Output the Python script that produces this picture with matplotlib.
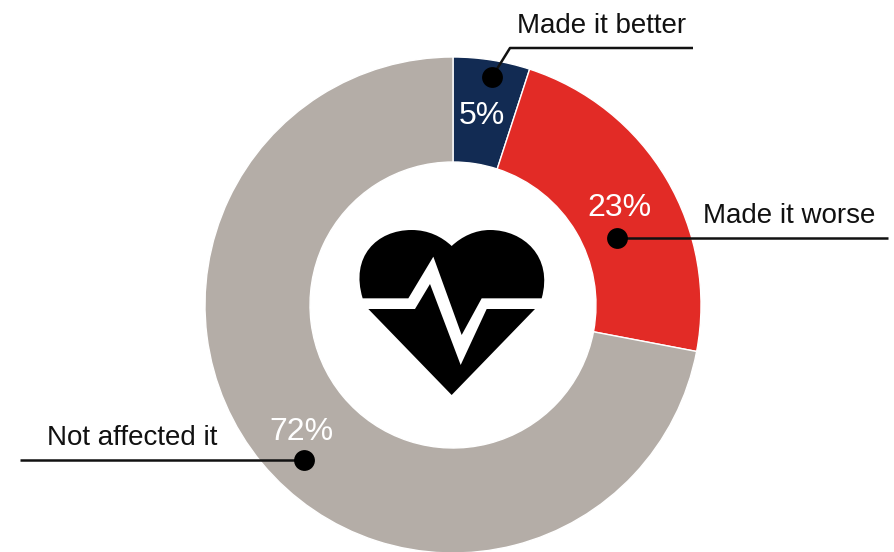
import matplotlib
matplotlib.use("Agg")
import matplotlib.pyplot as plt
from matplotlib import rcParams
from matplotlib.path import Path
from matplotlib.patches import PathPatch

config = {
    "font.family": ['Liberation Sans', 'DejaVu Sans'],
    "font.size": 20,
}
rcParams.update(config)

categories = ["Made it better", "Made it worse", "Not affected it"]
values = [5, 23, 72]
colors = ["#122B53", "#E22B26", "#B4ADA7"]

W, H = 895, 552


def py(y):
    # pixel rows run downwards, the axes run upwards
    return H - y


def icon(x, y):
    # heart outline was sketched on a 3x grid
    return (340 + x / 3, py(210 + y / 3))


fig = plt.figure(figsize=(W / 100, H / 100), dpi=100)
ax = fig.add_axes([0, 0, 1, 1])

ax.pie(values, colors=colors, startangle=90, counterclock=False,
       center=(453, py(305)), radius=248, frame=True,
       wedgeprops=dict(width=105, edgecolor="white", linewidth=1))
ax.set_xlim(0, W)
ax.set_ylim(0, H)
ax.set_aspect("equal")
ax.axis("off")

# percentage labels on the ring
label_pos = [(482, 116), (619, 208), (301, 432)]
for v, (x, y) in zip(values, label_pos):
    ax.text(x, py(y), f"{v}%", color="white", fontsize=23,
            ha="center", va="center", zorder=5)

# leader lines with their dots
leaders = [
    [(492, 77), (510, 48), (693, 48)],
    [(617, 238), (888, 238)],
    [(304, 460), (20, 460)],
]
for pts in leaders:
    xs = [p[0] for p in pts]
    ys = [py(p[1]) for p in pts]
    ax.plot(xs, ys, color="#111111", lw=1.8, zorder=6, solid_capstyle="butt")
    ax.plot(xs[0], ys[0], "o", color="black", ms=15, mew=0, zorder=7)

name_pos = [(517, 26), (703, 216), (47, 438)]
for name, (x, y) in zip(categories, name_pos):
    ax.text(x, py(y), name, color="#111111", fontsize=20,
            ha="left", va="center", zorder=5)

# heart icon, upper half
top = [(68, 265), (30, 140), (110, 60), (215, 60), (265, 60), (305, 80), (335, 108),
       (365, 80), (405, 60), (450, 60), (550, 60), (640, 140), (605, 265),
       (425, 265), (365, 375), (280, 140), (205, 265), (68, 265)]
top_codes = [Path.MOVETO] + [Path.CURVE4] * 12 + [Path.LINETO] * 4 + [Path.CLOSEPOLY]
ax.add_patch(PathPatch(Path([icon(*p) for p in top], top_codes),
                       facecolor="black", edgecolor="none", zorder=4))

# heart icon, lower half
low = [(85, 297), (225, 297), (270, 222), (362, 465), (440, 297), (585, 297),
       (335, 555), (85, 297)]
low_codes = [Path.MOVETO] + [Path.LINETO] * 6 + [Path.CLOSEPOLY]
ax.add_patch(PathPatch(Path([icon(*p) for p in low], low_codes),
                       facecolor="black", edgecolor="none", zorder=4))

fig.savefig("out.png", dpi=100, facecolor="white")
